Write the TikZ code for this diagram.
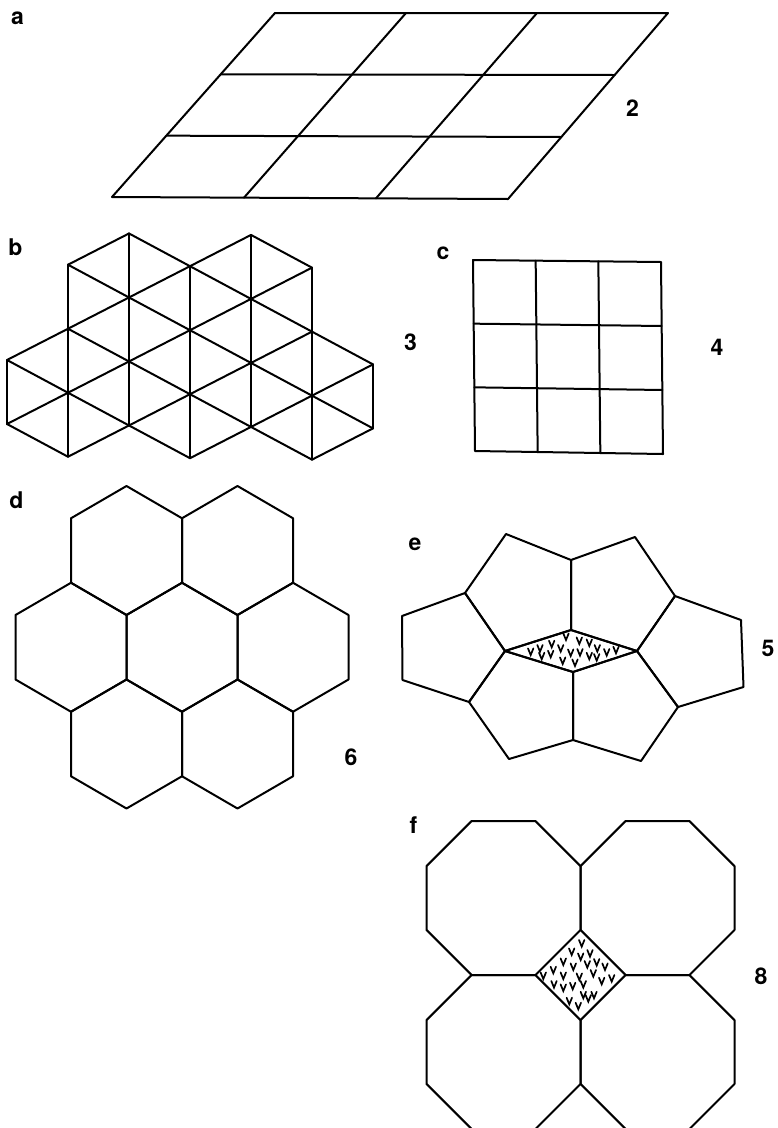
\documentclass[tikz,border=0pt]{standalone}
\usepackage{fontspec}
\setmainfont{TeX Gyre Heros}
\usetikzlibrary{calc}
\tikzset{
  tile/.style={draw=black, line width=2pt, line join=round, line cap=round},
  lab/.style={font=\bfseries\fontsize{23}{23}\selectfont, inner sep=0pt, anchor=center},
  vmark/.pic={\draw[line width=1.7pt, line join=miter, line cap=round] (-2.7,-3.3) -- (0,3.3) -- (2.7,-3.3);},
  hexcell/.pic={\draw[tile] (0,-64.5) -- (55.5,-32.25) -- (55.5,32.25) -- (0,64.5) -- (-55.5,32.25) -- (-55.5,-32.25) -- cycle;},
  octcell/.pic={\draw[tile] (-31.9,-77) -- (31.9,-77) -- (77,-31.9) -- (77,31.9) -- (31.9,77) -- (-31.9,77) -- (-77,31.9) -- (-77,-31.9) -- cycle;}
}
\begin{document}
\begin{tikzpicture}[x=1pt,y=-1pt]
\useasboundingbox (0,0) rectangle (778,1128);
\clip (0,0) rectangle (778,1128);

% ---------- labels ----------
\node[lab] (la) at (17.5,18) {a};
\node[lab] (l2) at (632.5,108) {2};
\node[lab] (lb) at (15.5,247.5) {b};
\node[lab] (l3) at (410.5,342.5) {3};
\node[lab] (lc) at (443,253) {c};
\node[lab] (l4) at (717,347) {4};
\node[lab] (ld) at (16.3,500.5) {d};
\node[lab] (l6) at (351,757.5) {6};
\node[lab] (le) at (415,544) {e};
\node[lab] (l5) at (768,648) {5};
\node[lab] (lf) at (413.5,825.5) {f};
\node[lab] (l8) at (761,976.5) {8};

% ---------- a : parallelogram grid ----------
\coordinate (aTL) at (275,13);
\coordinate (aTR) at (668,13);
\coordinate (aBL) at (112,197);
\coordinate (aBR) at (508,199);
\draw[tile] (aTL) -- (aTR) -- (aBR) -- (aBL) -- cycle;
\foreach \t in {1/3,2/3} {
  \draw[tile] ($(aTL)!\t!(aBL)$) -- ($(aTR)!\t!(aBR)$);
  \draw[tile] ($(aTL)!\t!(aTR)$) -- ($(aBL)!\t!(aBR)$);
}

% ---------- b : triangular grid ----------
\foreach \i/\j in {0/4,0/6, 1/1,1/3,1/5,1/7, 2/0,2/2,2/4,2/6, 3/1,3/3,3/5,3/7,
                   4/0,4/2,4/4,4/6, 5/1,5/3,5/5,5/7, 6/4,6/6}
  \coordinate (b\i-\j) at ({7+61*\i},{232+32*\j+0.73*\i});
\foreach \p/\q in {0-4/0-6, 1-1/1-7, 2-0/2-6, 3-1/3-7, 4-0/4-6, 5-1/5-7, 6-4/6-6}
  \draw[tile] (b\p) -- (b\q);
\foreach \p/\q in {0-4/1-3, 0-4/1-5, 0-6/1-5, 0-6/1-7,
  1-1/2-0, 1-1/2-2, 1-3/2-2, 1-3/2-4, 1-5/2-4, 1-5/2-6, 1-7/2-6,
  2-0/3-1, 2-2/3-1, 2-2/3-3, 2-4/3-3, 2-4/3-5, 2-6/3-5, 2-6/3-7,
  3-1/4-0, 3-1/4-2, 3-3/4-2, 3-3/4-4, 3-5/4-4, 3-5/4-6, 3-7/4-6,
  4-0/5-1, 4-2/5-1, 4-2/5-3, 4-4/5-3, 4-4/5-5, 4-6/5-5, 4-6/5-7,
  5-3/6-4, 5-5/6-4, 5-5/6-6, 5-7/6-6}
  \draw[tile] (b\p) -- (b\q);

% ---------- c : square grid ----------
\coordinate (cTL) at (473,260);
\coordinate (cTR) at (661,262);
\coordinate (cBL) at (475,451);
\coordinate (cBR) at (663,454);
\draw[tile] (cTL) -- (cTR) -- (cBR) -- (cBL) -- cycle;
\foreach \t in {1/3,2/3} {
  \draw[tile] ($(cTL)!\t!(cBL)$) -- ($(cTR)!\t!(cBR)$);
  \draw[tile] ($(cTL)!\t!(cTR)$) -- ($(cBL)!\t!(cBR)$);
}

% ---------- d : hexagons ----------
\foreach \cx/\cy in {126.5/550.5, 237.5/550.5, 71/647.25, 182/647.25, 293/647.25, 126.5/744, 237.5/744}
  \pic at (\cx,\cy) {hexcell};

% ---------- e : pentagons with rhombus ----------
\coordinate (eRL) at (505,651);
\coordinate (eRT) at (571,630);
\coordinate (eRR) at (637,651);
\coordinate (eRB) at (573,672);
\coordinate (eTC) at (571,560);
\coordinate (eUL) at (506,534);
\coordinate (eL)  at (465,593);
\coordinate (eUR) at (635,537);
\coordinate (eR)  at (675,596);
\coordinate (eL1) at (402,616);
\coordinate (eL2) at (402.5,680);
\coordinate (eLB) at (469,702);
\coordinate (eBL) at (509,759);
\coordinate (eBC) at (573,740);
\coordinate (eBR) at (641,761);
\coordinate (eRBt) at (678,707);
\coordinate (eR1) at (741,620);
\coordinate (eR2) at (743.5,687);
\draw[tile] (eRL) -- (eRT) -- (eTC) -- (eUL) -- (eL) -- cycle;
\draw[tile] (eRT) -- (eTC) -- (eUR) -- (eR) -- (eRR) -- cycle;
\draw[tile] (eL) -- (eL1) -- (eL2) -- (eLB) -- (eRL) -- cycle;
\draw[tile] (eRL) -- (eLB) -- (eBL) -- (eBC) -- (eRB) -- cycle;
\draw[tile] (eRB) -- (eBC) -- (eBR) -- (eRBt) -- (eRR) -- cycle;
\draw[tile] (eRR) -- (eR) -- (eR1) -- (eR2) -- (eRBt) -- cycle;
\draw[tile] (eRL) -- (eRT) -- (eRR) -- (eRB) -- cycle;
\foreach \x/\y in {530.7/651.7, 540/648.3, 541.7/656, 551.7/644, 550.7/654, 560.7/648.3,
                   566/636.7, 570.7/652.7, 579.3/640.7, 580/652.3, 589.3/642.7, 589.3/656,
                   597.3/648.3, 596.7/657.3, 606.7/652.3, 616/650, 562.7/660.7, 575/662.7}
  \pic at (\x,\y) {vmark};

% ---------- f : octagons with square ----------
\foreach \cx/\cy in {503.5/898, 657.5/898, 503.5/1052, 657.5/1052}
  \pic at (\cx,\cy) {octcell};
\foreach \x/\y in {581.7/943.3, 571.7/951.7, 580.7/956.7, 590/953.3, 563.3/961.7, 573.3/966.7,
                   587.3/964.3, 596.7/962.3, 605/966.7, 553.3/970, 543.3/975.7, 563.3/975.7,
                   579.3/976.7, 593.3/973.3, 611.7/978.3, 601.7/981, 554/984.3, 563.3/987.7,
                   572.7/986, 583.3/984.3, 583.3/995, 588.3/998.3, 594/995, 569.3/1001, 578.3/1006}
  \pic at (\x,\y) {vmark};
\end{tikzpicture}
\end{document}
